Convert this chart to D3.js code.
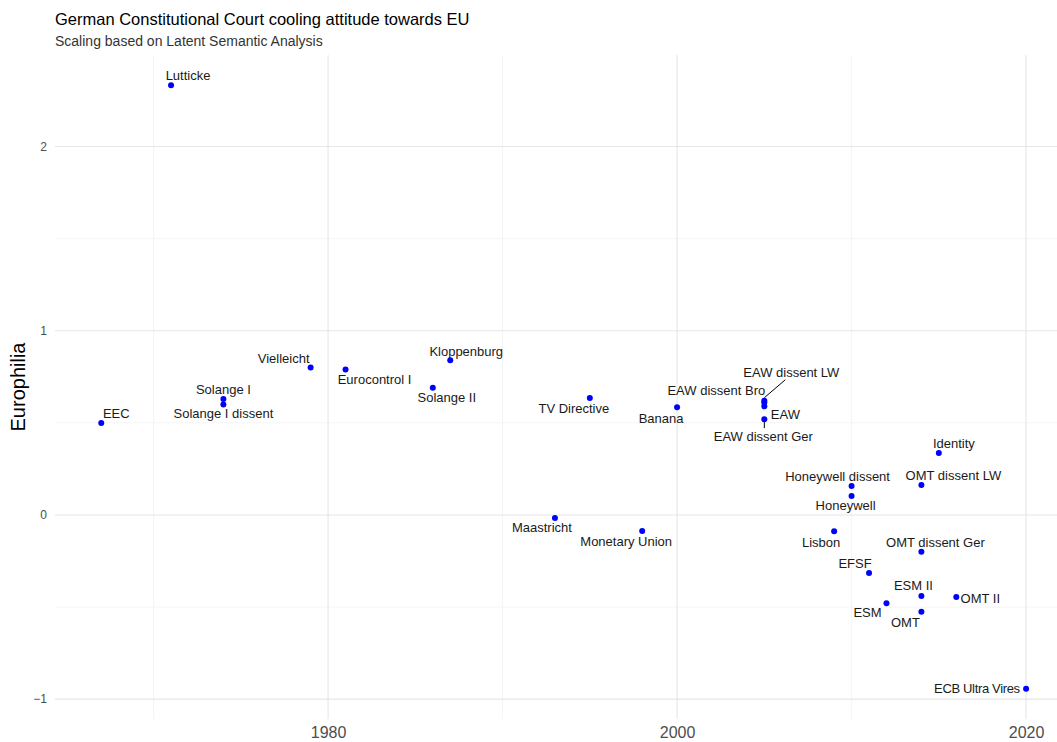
<!DOCTYPE html>
<html><head><meta charset="utf-8">
<script src="https://cdn.jsdelivr.net/npm/d3@7"></script>
<style>body{margin:0;background:#fff}svg{display:block;font-family:"Liberation Sans",Arial,sans-serif}</style>
</head><body><svg id="c" width="1057" height="742"></svg>
<script>
const cases = ["Lutticke","EEC","Solange I","Solange I dissent","Vielleicht","Eurocontrol I","Solange II","Kloppenburg","TV Directive","Banana","Maastricht","Monetary Union","EAW dissent LW","EAW dissent Bro","EAW","EAW dissent Ger","Identity","Honeywell dissent","Honeywell","OMT dissent LW","Lisbon","OMT dissent Ger","EFSF","ESM II","OMT II","ESM","OMT","ECB Ultra Vires"];
const years = [1971,1967,1974,1974,1979,1981,1986,1987,1995,2000,1993,1998,2005,2005,2005,2005,2015,2010,2010,2014,2009,2014,2011,2014,2016,2012,2014,2020];
const europhilia = [2.333,0.499,0.63,0.60,0.80,0.79,0.69,0.84,0.635,0.585,-0.016,-0.087,0.62,0.61,0.59,0.52,0.336,0.157,0.103,0.163,-0.089,-0.20,-0.315,-0.44,-0.445,-0.48,-0.526,-0.944];
const xTicks = [1980,2000,2020];
const yTicks = [-1,0,1,2];
const xMinor = [1970,1990,2010];
const yMinor = [-0.5,0.5,1.5];

// label placement (pixel offsets of label centre from point), as ggrepel would
const labelOffsets = {
 "Lutticke":[17,-10],"EEC":[15,-10],"Solange I":[0,-9],"Solange I dissent":[0,9],
 "Vielleicht":[-27,-9],"Eurocontrol I":[29,10],"Solange II":[14,10],"Kloppenburg":[16,-9],
 "TV Directive":[-16,11],"Banana":[-16,11],"Maastricht":[-13,10],"Monetary Union":[-16,11],
 "EAW dissent LW":[27,-28],"EAW dissent Bro":[-48,-12],"EAW":[21,8],"EAW dissent Ger":[-1,17],
 "Identity":[15,-10],"Honeywell dissent":[-14,-10],"Honeywell":[-6,10],"OMT dissent LW":[32,-9],
 "Lisbon":[-13,11],"OMT dissent Ger":[14,-9],"EFSF":[-14,-9],"ESM II":[-8,-10],"OMT II":[24,2],
 "ESM":[-19,9],"OMT":[-16,11],"ECB Ultra Vires":[-49,0]
};
const segments = {"EAW dissent LW":[[0,-3],[21,-21]],"EAW dissent Ger":[[0,2],[0,9]]};

const svg = d3.select("#c");
const W=1057,H=742;
const xExt = d3.extent(years), yExt = d3.extent(europhilia);
const xPad=(xExt[1]-xExt[0])*0.05, yPad=(yExt[1]-yExt[0])*0.05;
const pLeft=55, pTop=55, pBottom=719;
const pxPerYear = 17.45;
const x = d3.scaleLinear().domain([xExt[0]-xPad, xExt[1]+xPad]).range([pLeft, pLeft+(xExt[1]-xExt[0]+2*xPad)*pxPerYear]);
const y = d3.scaleLinear().domain([yExt[0]-yPad, yExt[1]+yPad]).range([pBottom, pTop]);
const pRight = W;

const g = svg.append("g");
g.selectAll(".vmin").data(xMinor).join("line").attr("x1",d=>x(d)).attr("x2",d=>x(d)).attr("y1",pTop).attr("y2",pBottom).attr("stroke","#f2f2f2").attr("stroke-width",0.8);
g.selectAll(".hmin").data(yMinor).join("line").attr("y1",d=>y(d)).attr("y2",d=>y(d)).attr("x1",pLeft).attr("x2",pRight).attr("stroke","#f2f2f2").attr("stroke-width",0.8);
g.selectAll(".vmaj").data(xTicks).join("line").attr("x1",d=>x(d)).attr("x2",d=>x(d)).attr("y1",pTop).attr("y2",pBottom).attr("stroke","#e6e6e6").attr("stroke-width",1.1);
g.selectAll(".hmaj").data(yTicks).join("line").attr("y1",d=>y(d)).attr("y2",d=>y(d)).attr("x1",pLeft).attr("x2",pRight).attr("stroke","#e6e6e6").attr("stroke-width",1.1);

const xa = svg.append("g").attr("transform",`translate(0,${pBottom})`).call(d3.axisBottom(x).tickValues(xTicks).tickFormat(d3.format("d")).tickSize(0).tickPadding(8));
xa.select(".domain").remove();
xa.selectAll("text").attr("font-size",16).attr("fill","#4d4d4d").attr("font-family","Liberation Sans, Arial, sans-serif");
const ya = svg.append("g").attr("transform",`translate(${pLeft},0)`).call(d3.axisLeft(y).tickValues(yTicks).tickFormat(d=>d<0?"\u2212"+Math.abs(d):d).tickSize(0).tickPadding(8));
ya.select(".domain").remove();
ya.selectAll("text").attr("font-size",12).attr("fill","#4d4d4d").attr("font-family","Liberation Sans, Arial, sans-serif");

svg.append("text").attr("x",55).attr("y",25).attr("font-size",16.5).attr("fill","#000").text("German Constitutional Court cooling attitude towards EU");
svg.append("text").attr("x",55).attr("y",46).attr("font-size",14).attr("fill","#333").text("Scaling based on Latent Semantic Analysis");
svg.append("text").attr("transform",`translate(25,${(pTop+pBottom)/2}) rotate(-90)`).attr("text-anchor","middle").attr("font-size",20).attr("fill","#000").text("Europhilia");

const data = cases.map((c,i)=>({c, yr:years[i], v:europhilia[i]}));
data.filter(d=>segments[d.c]).forEach(d=>{
  const s=segments[d.c];
  svg.append("line").attr("x1",x(d.yr)+s[0][0]).attr("y1",y(d.v)+s[0][1]).attr("x2",x(d.yr)+s[1][0]).attr("y2",y(d.v)+s[1][1]).attr("stroke","#000").attr("stroke-width",1);
});
svg.selectAll(".pt").data(data).join("circle").attr("cx",d=>x(d.yr)).attr("cy",d=>y(d.v)).attr("r",3).attr("fill","#0000ff");
svg.selectAll(".lb").data(data).join("text")
  .attr("x",d=>x(d.yr)+labelOffsets[d.c][0]).attr("y",d=>y(d.v)+labelOffsets[d.c][1])
  .attr("text-anchor","middle").attr("dominant-baseline","central")
  .attr("font-size",13).attr("fill","#1a1a1a")
  .attr("textLength",d=>d.c==="ECB Ultra Vires"?86:null)
  .text(d=>d.c);
</script></body></html>
